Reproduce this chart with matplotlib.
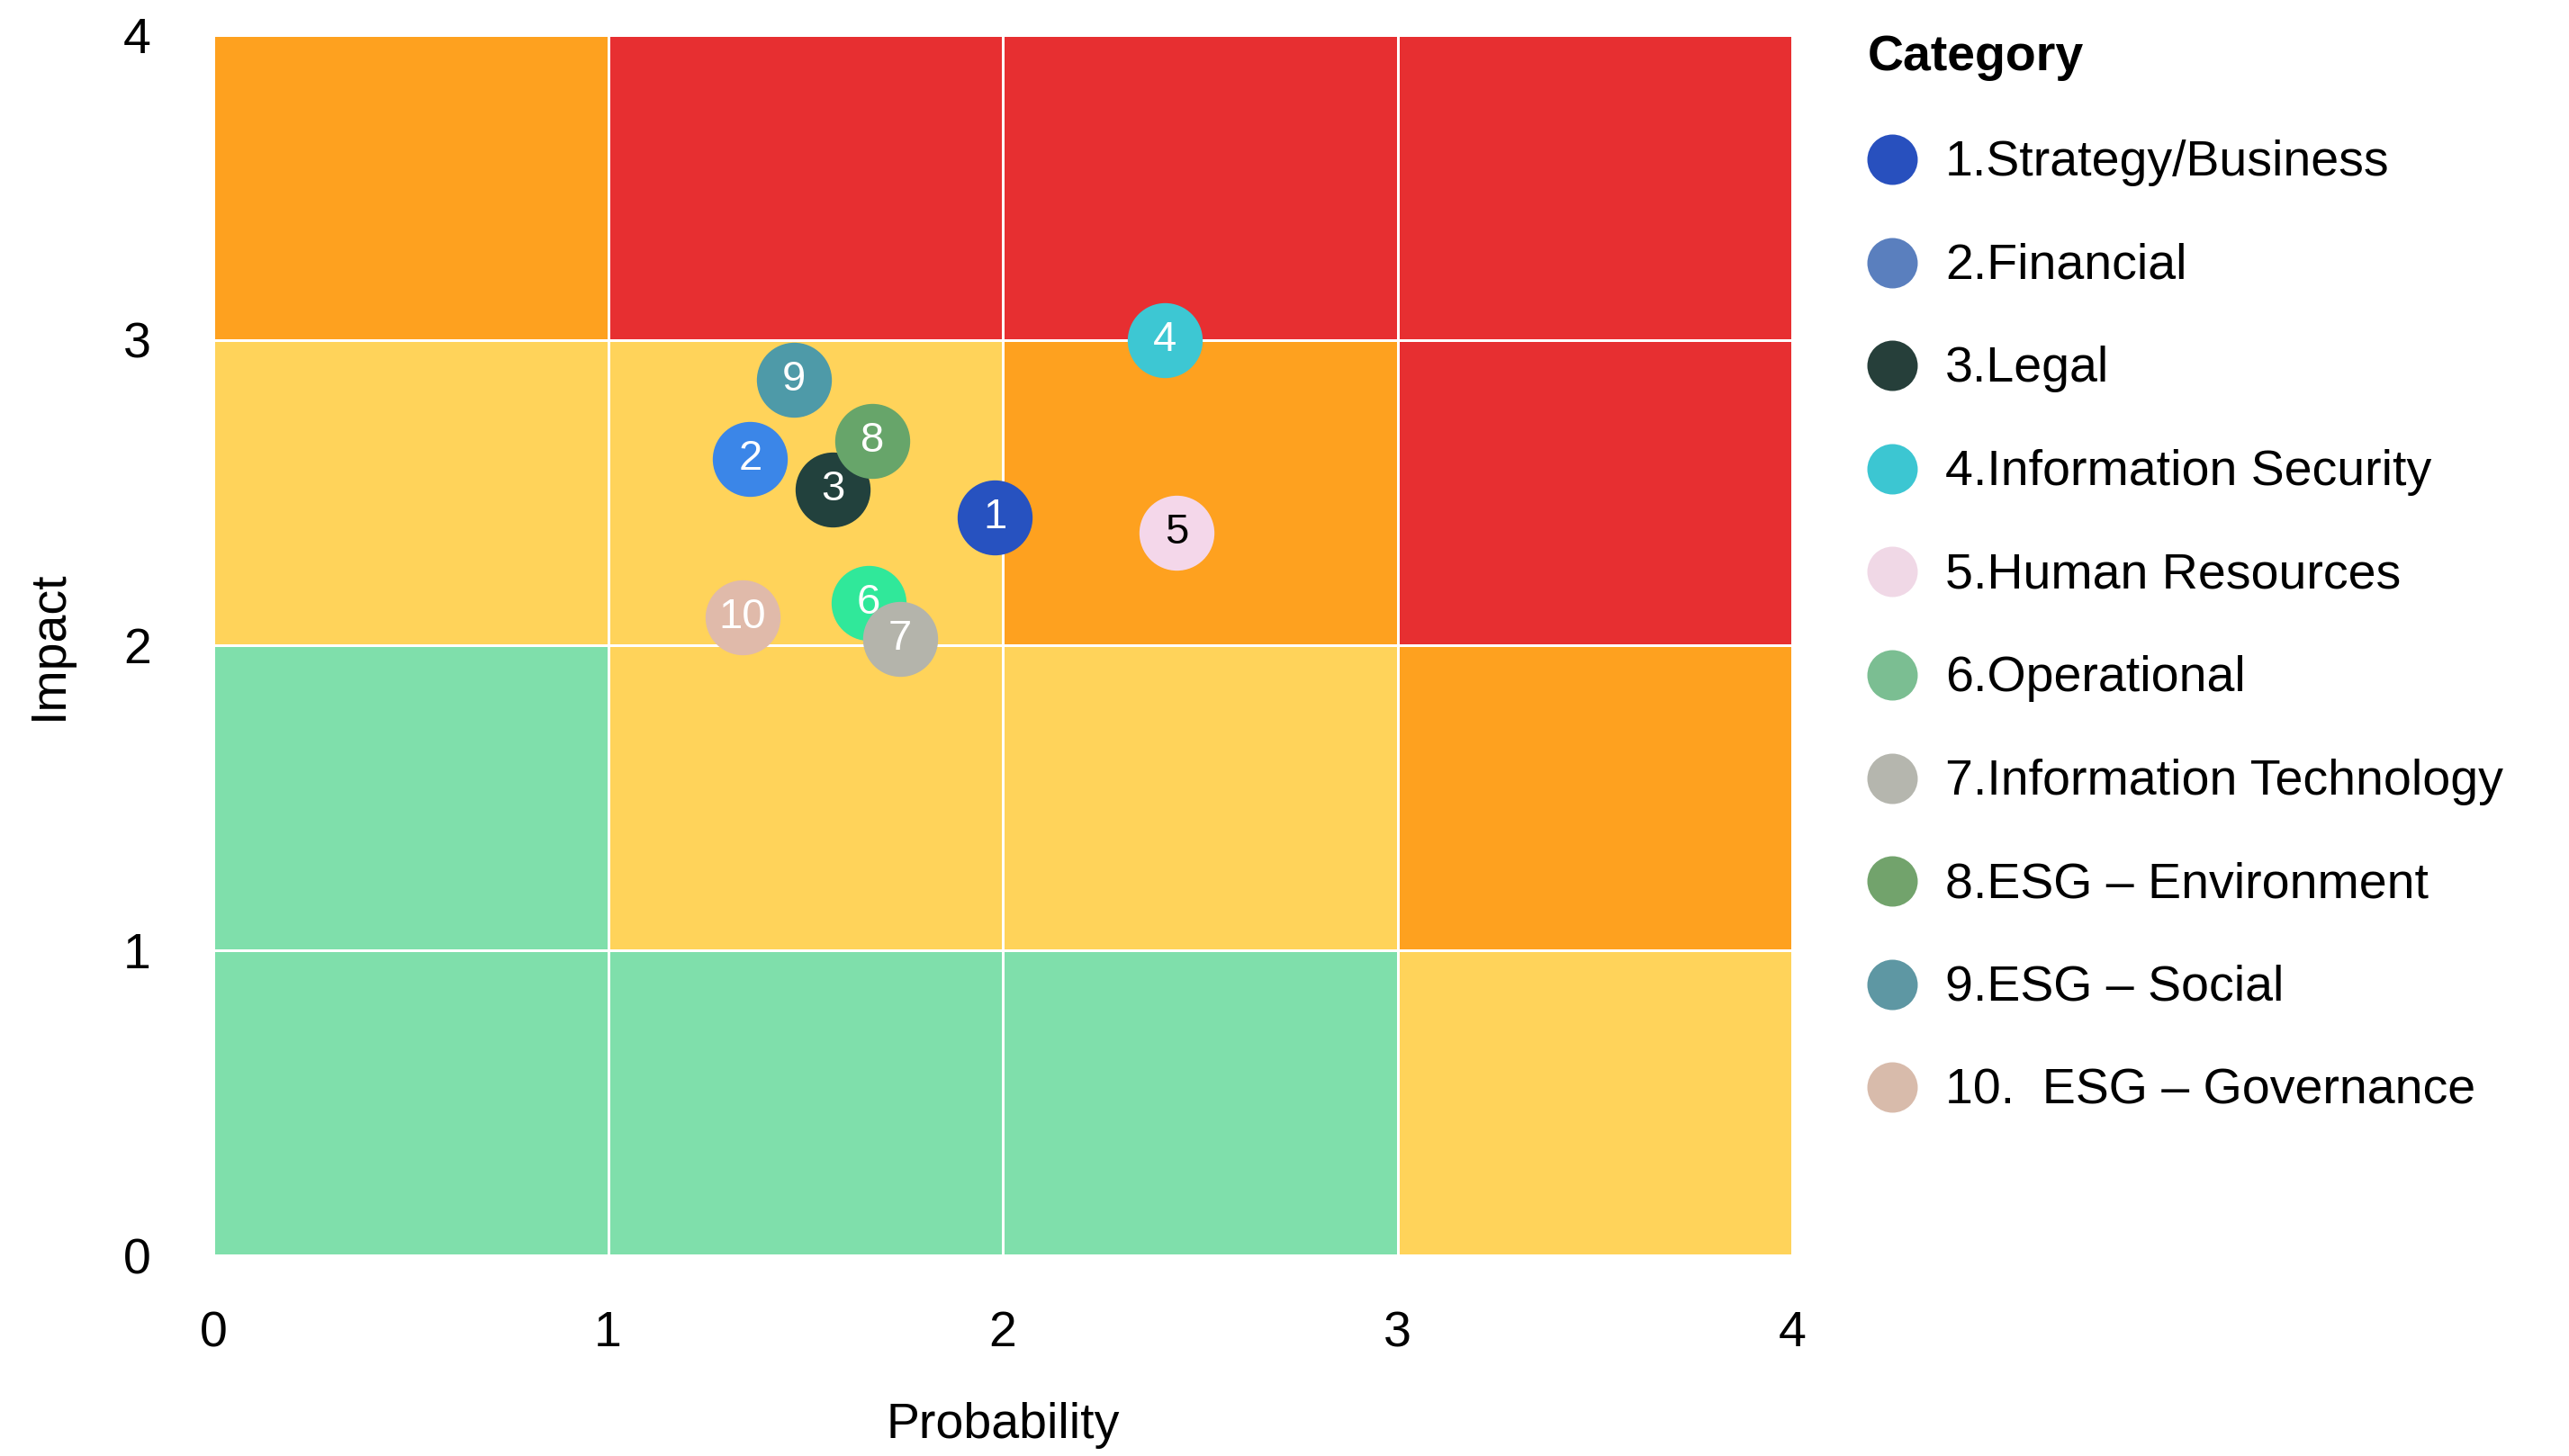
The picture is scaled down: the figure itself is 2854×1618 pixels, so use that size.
import matplotlib
matplotlib.use("Agg")
import matplotlib.pyplot as plt
from matplotlib.colors import ListedColormap
import numpy as np

# ---------------- data ----------------
categories = ["1.Strategy/Business", "2.Financial", "3.Legal", "4.Information Security",
              "5.Human Resources", "6.Operational", "7.Information Technology",
              "8.ESG \u2013 Environment", "9.ESG \u2013 Social", "10.  ESG \u2013 Governance"]
point_labels = ["1", "2", "3", "4", "5", "6", "7", "8", "9", "10"]
probability = [1.98, 1.36, 1.57, 2.41, 2.44, 1.66, 1.74, 1.67, 1.47, 1.34]
impact = [2.42, 2.61, 2.51, 3.00, 2.37, 2.14, 2.02, 2.67, 2.87, 2.09]
point_colors = ["#2752C0", "#3B86E8", "#22413D", "#3DC7D3", "#F4D7EA",
                "#30E89A", "#B4B4AB", "#67A56A", "#4E9AA8", "#E0BAAA"]
legend_colors = ["#2850BE", "#5A7FBE", "#263F3A", "#3CC6D2", "#F0D8E6",
                 "#7BBE92", "#B5B6AE", "#72A36C", "#5E97A3", "#D8BBAB"]
label_colors = ["white", "white", "white", "white", "black",
                "white", "white", "white", "white", "white"]

# risk level grid: rows = impact 0-1 .. 3-4, cols = probability 0-1 .. 3-4
risk_levels = [[0, 0, 0, 1],
               [0, 1, 1, 2],
               [1, 1, 2, 3],
               [2, 3, 3, 3]]
level_colors = ["#7FDFAB", "#FFD35A", "#FEA11F", "#E72F31"]
ticks = [0, 1, 2, 3, 4]

FONT = "Liberation Sans"
plt.rcParams["font.family"] = [FONT, "DejaVu Sans"]

W, H = 2854, 1618
fig = plt.figure(figsize=(W / 100, H / 100), dpi=100)
ax = fig.add_axes([237 / W, 1 - 1395 / H, (1991 - 237) / W, (1395 - 39) / H])

edges = np.arange(5)
ax.pcolormesh(edges, edges, np.array(risk_levels), cmap=ListedColormap(level_colors),
              vmin=-0.5, vmax=3.5, edgecolors="white", linewidth=2, zorder=1)

for i in range(len(probability)):
    ax.scatter(probability[i], impact[i], s=3600, color=point_colors[i],
               linewidths=0, zorder=3 + i)
    ax.text(probability[i], impact[i], point_labels[i], color=label_colors[i],
            fontsize=34, ha="center", va="center", zorder=3 + i)

ax.set_xlim(0, 4)
ax.set_ylim(0, 4)
ax.set_xticks(ticks)
ax.set_yticks(ticks)
ax.tick_params(axis="both", length=0, labelsize=40)
ax.tick_params(axis="x", pad=44)
ax.tick_params(axis="y", pad=50)
for s in ax.spines.values():
    s.set_visible(False)

ax.set_xlabel("Probability", fontsize=40, va="center")
ax.xaxis.set_label_coords(0.5, -(1584 - 1395) / (1395 - 39))
ax.set_ylabel("Impact", fontsize=40, va="center")
ax.yaxis.set_label_coords((55 - 237) / (1991 - 237), 0.5)

# ---------------- legend (manual, in pixel-unit axes) ----------------
lax = fig.add_axes([2040 / W, 0, (W - 2040) / W, 1])
lax.set_xlim(2040, W)
lax.set_ylim(H, 0)
lax.axis("off")
row0, dy, text_shift = 177, 114.6, 4
lax.text(2075, 60 + text_shift, "Category", fontsize=40, fontweight="bold",
         ha="left", va="center")
for i, name in enumerate(categories):
    y = row0 + i * dy
    lax.scatter(2102, y, s=1625, color=legend_colors[i], linewidths=0)
    lax.text(2161, y + text_shift, name, fontsize=40, ha="left", va="center")

fig.savefig("out.png", dpi=100)
